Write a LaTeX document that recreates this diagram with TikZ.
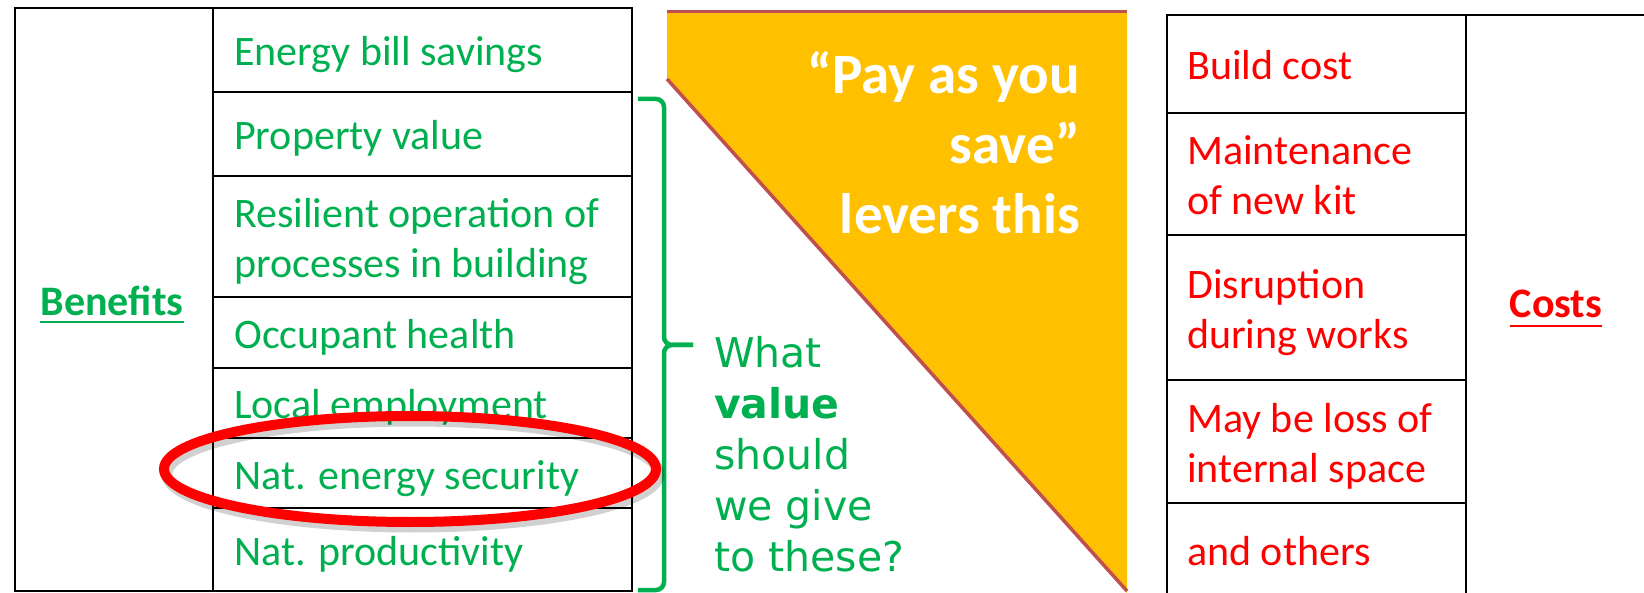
\documentclass[tikz,border=0pt]{standalone}
\usepackage{fontspec}
\setmainfont{Carlito}
\newfontfamily\dvs{DejaVu Sans}
\definecolor{bgreen}{HTML}{00B050}
\definecolor{cred}{HTML}{FF0000}
\definecolor{gold}{HTML}{FFC000}
\definecolor{tline}{HTML}{C0504D}
\newcommand\cst{\rule[-9pt]{0pt}{46pt}}
\newcommand\wst{\rule[-19pt]{0pt}{69pt}}
\newcommand\gst{\rule[-12pt]{0pt}{50pt}}
\begin{document}
\begin{tikzpicture}[x=1pt,y=-1pt,
  cell/.style={anchor=west, inner sep=0pt, align=left, font=\fontsize{42}{50}\selectfont},
  gcell/.style={cell, text=bgreen},
  rcell/.style={cell, text=cred},
  grid/.style={line width=2.5pt, draw=black},
  brace/.style={draw=bgreen, line width=4.5pt, rounded corners=8pt},
  head/.style={anchor=base, inner sep=0pt, font=\fontsize{42}{50}\selectfont\bfseries}]
\useasboundingbox (0,0) rectangle (1644,593);
\clip (0,0) rectangle (1644,593);
% triangle
\fill[gold] (667,13) -- (1127,13) -- (1127,593) -- (667,79) -- cycle;
\draw[tline, line width=3.5pt] (667,79) -- (1127,591);
\draw[tline, line width=3pt] (667,12) -- (1127,12);
% left table
\draw[grid] (15,8) rectangle (632,591);
\draw[grid] (213,8) -- (213,591);
\foreach \y in {92,176,297,368,438,508} \draw[grid] (213,\y) -- (632,\y);
\node[gcell] (b1) at (234,52) {\cst Energy bill savings};
\node[gcell] (b2) at (234,136) {\cst Property value};
\node[gcell] (b3) at (234,238.5) {\cst Resilient operation of\\\cst processes in building};
\node[gcell] (b4) at (234,334.5) {\cst Occupant health};
\node[gcell] (b5) at (234,405) {\cst Local employment};
\node[gcell] (b6) at (234,475) {\cst Nat. energy security};
\node[gcell] (b7) at (234,551.5) {\cst Nat. productivity};
\node[head, text=bgreen] (ben) at (112,316) {Benefits};
\draw[bgreen, line width=2.7pt] ([yshift=-6pt]ben.base west) -- ([yshift=-6pt]ben.base east);
% right table
\draw[grid] (1167,600) -- (1167,15) -- (1650,15);
\draw[grid] (1466,15) -- (1466,600);
\foreach \y in {113,235,380,503} \draw[grid] (1167,\y) -- (1466,\y);
\node[rcell] (c1) at (1187,66) {\cst Build cost};
\node[rcell] (c2) at (1187,176) {\cst Maintenance\\\cst of new kit};
\node[rcell] (c3) at (1187,309.5) {\cst Disruption\\\cst during works};
\node[rcell] (c4) at (1187,443.5) {\cst May be loss of\\\cst internal space};
\node[rcell] (c5) at (1187,551) {\cst and others};
\node[head, text=cred] (costs) at (1556,318) {Costs};
\draw[cred, line width=2.7pt] ([yshift=-8pt]costs.base west) -- ([yshift=-8pt]costs.base east);
% brace
\draw[brace] (638,99) -- (664,99) -- (664,345) -- (693,345);
\draw[brace] (693,345) -- (664,345) -- (664,590) -- (638,590);
% texts
\node[anchor=north east, inner sep=0pt, align=right, text=white,
  font=\fontsize{57}{70}\selectfont\bfseries] (pays) at (1080,43)
  {\wst “Pay as you\\\wst save”\\\wst levers this};
\node[anchor=north west, inner sep=0pt, align=left, text=bgreen,
  font=\dvs\fontsize{41}{51}\selectfont] (q) at (714,329)
  {\gst What\\\gst\textbf{value}\\\gst should\\\gst we give\\\gst to these?};
% ellipse
\draw[black, opacity=0.18, line width=11pt] (413,474) ellipse [x radius=246, y radius=53];
\draw[cred, line width=10pt] (410,469) ellipse [x radius=246, y radius=53];
\end{tikzpicture}
\end{document}
